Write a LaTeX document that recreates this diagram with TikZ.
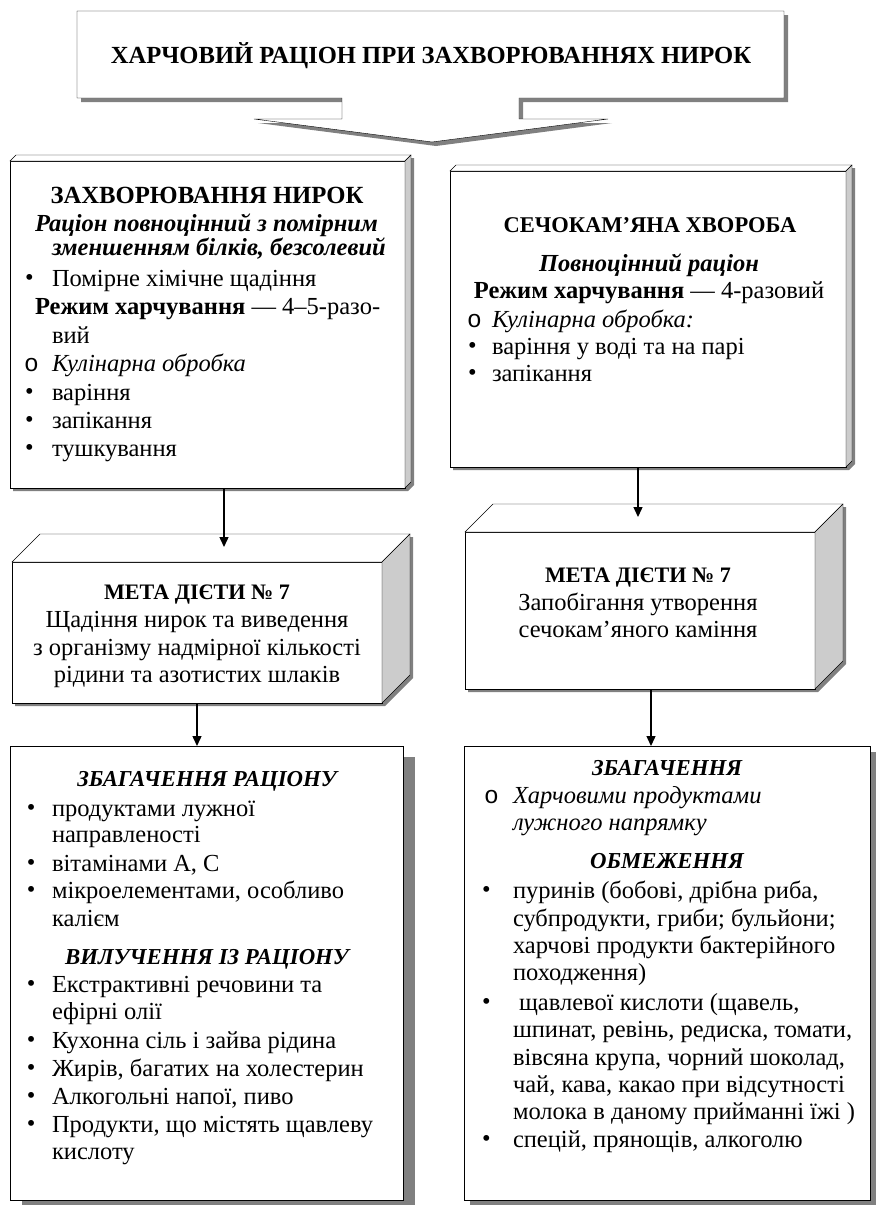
\documentclass[tikz,border=0pt]{standalone}
\usepackage{fontspec}
\setmainfont{Liberation Serif}
\newfontfamily\ringfont{Liberation Mono}
\usetikzlibrary{arrows.meta}
\pgfdeclarelayer{bg}
\pgfsetlayers{bg,main}
\definecolor{shadowc}{gray}{0.5}
\definecolor{sidec}{gray}{0.8}
% font sizes
\newcommand\fs[1]{\fontsize{#1}{#1}\selectfont}
% one line of text, left end at (x,y) on the baseline
\newcommand\tline[4]{\node[txt] (#1) at (#2,#3) {#4};}
% one centred line of text
\newcommand\ctrline[4]{\node[ctxt] (#1) at (#2,#3) {#4};}
% bulleted line: bullet at x, text starts #3 further right
\newcommand\dotline[5]{\node[txt] (#1) at (#2,#4) {\makebox[#3pt][l]{\raisebox{0.5pt}{•}}#5};}
\newcommand\ringline[5]{\node[txt] (#1) at (#2,#4) {\makebox[#3pt][l]{{\ringfont o}}#5};}
\begin{document}
\begin{tikzpicture}[x=1pt,y=-1pt,line width=1.4pt,
  font=\fs{24.5},
  txt/.style={anchor=base west,inner sep=0pt,outer sep=0pt},
  ctxt/.style={anchor=base,inner sep=0pt,outer sep=0pt},
  front/.style={draw,fill=white,anchor=north west,inner sep=0pt,outer sep=0pt},
  topface/.style={draw,fill=white,line join=miter},
  sideface/.style={draw,fill=sidec,line join=miter},
  shadow/.style={fill=shadowc,draw=none},
  arr/.style={-{Triangle[length=10pt,width=9pt]},line width=1.4pt}]
\useasboundingbox (0,0) rectangle (876,1205);

% ---------- title callout ----------
\begin{pgfonlayer}{bg}
\fill[shadow] (81,15) -- (788,15) -- (788,102) -- (523,102) -- (523,123)
  -- (612,123) -- (436,146) -- (258,123) -- (346,123) -- (346,102)
  -- (81,102) -- cycle;
\end{pgfonlayer}
\draw[fill=white,line join=miter] (77,11) -- (784,11) -- (784,98) -- (519,98)
  -- (519,119) -- (608,119) -- (432,142) -- (254,119) -- (342,119)
  -- (342,98) -- (77,98) -- cycle;
\node[ctxt,font=\fs{24.6}\bfseries] (title) at (431,63) {ХАРЧОВИЙ РАЦІОН ПРИ ЗАХВОРЮВАННЯХ НИРОК};

% ---------- left column, box 1 ----------
\node[front,minimum width=395pt,minimum height=327pt] (b1) at (10,161) {};
\draw[topface] (b1.north west) -- ++(6,-6) -- ([shift={(6,-6)}]b1.north east)
  -- (b1.north east) -- cycle;
\draw[sideface] (b1.north east) -- ([shift={(6,-6)}]b1.north east)
  -- ([shift={(6,-6)}]b1.south east) -- (b1.south east) -- cycle;
\begin{pgfonlayer}{bg}
\fill[shadow] ([shift={(3,3)}]b1.south west) -- ([shift={(3,3)}]b1.north west)
  -- ([shift={(9,-3)}]b1.north east) -- ([shift={(9,-3)}]b1.south east)
  -- ([shift={(3,3)}]b1.south east) -- cycle;
\end{pgfonlayer}
\ctrline{b1t}{207}{203}{\fs{24.7}\bfseries ЗАХВОРЮВАННЯ НИРОК}
\tline{b1a}{35}{231}{\bfseries\itshape Раціон повноцінний з помірним}
\tline{b1b}{52}{255}{\bfseries\itshape зменшенням білків, безсолевий}
\dotline{b1c}{25}{27}{286}{Помірне хімічне щадіння}
\tline{b1d}{35}{314}{\textbf{Режим харчування} — 4–5-разо-}
\tline{b1e}{52}{343}{вий}
\ringline{b1f}{24}{28}{371}{\itshape Кулінарна обробка}
\dotline{b1g}{25}{27}{400}{варіння}
\dotline{b1h}{25}{27}{428}{запікання}
\dotline{b1i}{25}{27}{456}{тушкування}

% ---------- right column, box 1 ----------
\node[front,minimum width=396pt,minimum height=296pt] (b2) at (450,171) {};
\draw[topface] (b2.north west) -- ++(6,-6) -- ([shift={(6,-6)}]b2.north east)
  -- (b2.north east) -- cycle;
\draw[sideface] (b2.north east) -- ([shift={(6,-6)}]b2.north east)
  -- ([shift={(6,-6)}]b2.south east) -- (b2.south east) -- cycle;
\begin{pgfonlayer}{bg}
\fill[shadow] ([shift={(3,3)}]b2.south west) -- ([shift={(3,3)}]b2.north west)
  -- ([shift={(9,-3)}]b2.north east) -- ([shift={(9,-3)}]b2.south east)
  -- ([shift={(3,3)}]b2.south east) -- cycle;
\end{pgfonlayer}
\ctrline{b2t}{650}{232}{\fs{22.5}\bfseries СЕЧОКАМ’ЯНА ХВОРОБА}
\ctrline{b2a}{649}{271}{\bfseries\itshape Повноцінний раціон}
\ctrline{b2b}{649}{298}{\textbf{Режим харчування} — 4-разовий}
\ringline{b2c}{467}{25}{327}{\itshape Кулінарна обробка:}
\dotline{b2d}{468}{24}{354}{варіння у воді та на парі}
\dotline{b2e}{468}{24}{381}{запікання}

% ---------- left column, box 2 ----------
\node[front,minimum width=370pt,minimum height=141pt] (m1) at (12,562) {};
\draw[topface] (m1.north west) -- ++(28,-28) -- ([shift={(28,-28)}]m1.north east)
  -- (m1.north east) -- cycle;
\draw[sideface] (m1.north east) -- ([shift={(28,-28)}]m1.north east)
  -- ([shift={(28,-28)}]m1.south east) -- (m1.south east) -- cycle;
\begin{pgfonlayer}{bg}
\fill[shadow] ([shift={(3,3)}]m1.south west) -- ([shift={(3,3)}]m1.north west)
  -- ([shift={(31,-25)}]m1.north east) -- ([shift={(31,-25)}]m1.south east)
  -- ([shift={(3,3)}]m1.south east) -- cycle;
\end{pgfonlayer}
\ctrline{m1t}{197}{599}{\fs{22.1}\bfseries МЕТА ДІЄТИ № 7}
\ctrline{m1a}{197}{627}{Щадіння нирок та виведення}
\ctrline{m1b}{197}{655}{з організму надмірної кількості}
\ctrline{m1c}{197}{682}{рідини та азотистих шлаків}

% ---------- right column, box 2 ----------
\node[front,minimum width=350pt,minimum height=157pt] (m2) at (465,532) {};
\draw[topface] (m2.north west) -- ++(28,-28) -- ([shift={(28,-28)}]m2.north east)
  -- (m2.north east) -- cycle;
\draw[sideface] (m2.north east) -- ([shift={(28,-28)}]m2.north east)
  -- ([shift={(28,-28)}]m2.south east) -- (m2.south east) -- cycle;
\begin{pgfonlayer}{bg}
\fill[shadow] ([shift={(3,3)}]m2.south west) -- ([shift={(3,3)}]m2.north west)
  -- ([shift={(31,-25)}]m2.north east) -- ([shift={(31,-25)}]m2.south east)
  -- ([shift={(3,3)}]m2.south east) -- cycle;
\end{pgfonlayer}
\ctrline{m2t}{638}{582}{\fs{22.1}\bfseries МЕТА ДІЄТИ № 7}
\ctrline{m2a}{638}{610}{Запобігання утворення}
\ctrline{m2b}{638}{637}{сечокам’яного каміння}

% ---------- left column, box 3 ----------
\node[front,minimum width=393pt,minimum height=454pt] (z1) at (10,746) {};
\begin{pgfonlayer}{bg}
\fill[shadow] ([shift={(12,11)}]z1.south west) rectangle ([shift={(12,11)}]z1.north east);
\end{pgfonlayer}
\ctrline{z1t}{207}{786}{\fs{22.8}\bfseries\itshape ЗБАГАЧЕННЯ РАЦІОНУ}
\dotline{z1a}{27}{25}{816}{продуктами лужної}
\tline{z1b}{52}{842}{направленості}
\dotline{z1c}{27}{25}{871}{вітамінами А, С}
\dotline{z1d}{27}{25}{898}{мікроелементами, особливо}
\tline{z1e}{52}{926}{калієм}
\ctrline{z1u}{207}{964}{\fs{22.8}\bfseries\itshape ВИЛУЧЕННЯ ІЗ РАЦІОНУ}
\dotline{z1f}{27}{25}{992}{Екстрактивні речовини та}
\tline{z1g}{52}{1019}{ефірні олії}
\dotline{z1h}{27}{25}{1048}{Кухонна сіль і зайва рідина}
\dotline{z1i}{27}{25}{1076}{Жирів, багатих на холестерин}
\dotline{z1j}{27}{25}{1104}{Алкогольні напої, пиво}
\dotline{z1k}{27}{25}{1132}{Продукти, що містять щавлеву}
\tline{z1l}{52}{1159}{кислоту}

% ---------- right column, box 3 ----------
\node[front,minimum width=406pt,minimum height=454pt] (z2) at (464,746) {};
\begin{pgfonlayer}{bg}
\fill[shadow] ([shift={(6,6)}]z2.south west) rectangle ([shift={(6,6)}]z2.north east);
\end{pgfonlayer}
\ctrline{z2t}{667}{775}{\fs{22.8}\bfseries\itshape ЗБАГАЧЕННЯ}
\ringline{z2a}{484}{29}{803}{\itshape Харчовими продуктами}
\tline{z2b}{513}{830}{\itshape лужного напрямку}
\ctrline{z2u}{667}{868}{\fs{22.8}\bfseries\itshape ОБМЕЖЕННЯ}
\dotline{z2c}{482}{31}{898}{пуринів (бобові, дрібна риба,}
\tline{z2d}{513}{926}{субпродукти, гриби; бульйони;}
\tline{z2e}{513}{953}{харчові продукти бактерійного}
\tline{z2f}{513}{980}{походження)}
\dotline{z2g}{482}{31}{1010}{ щавлевої кислоти (щавель,}
\tline{z2h}{513}{1037}{шпинат, ревінь, редиска, томати,}
\tline{z2i}{513}{1065}{вівсяна крупа, чорний шоколад,}
\tline{z2j}{513}{1092}{чай, кава, какао при відсутності}
\tline{z2k}{513}{1119}{молока в даному прийманні їжі )}
\dotline{z2l}{482}{31}{1147}{спецій, прянощів, алкоголю}

% ---------- connectors ----------
\coordinate (p1) at (224,547);
\coordinate (p2) at (638,517);
\coordinate (p3) at (651,700);
\draw[arr] (b1.south -| p1) -- (p1);
\draw[arr] (b2.south -| p2) -- (p2);
\draw[arr] (m1.south) -- (z1.north -| m1.south);
\draw[arr] (m2.south -| p3) -- (z2.north -| p3);
\end{tikzpicture}
\end{document}
